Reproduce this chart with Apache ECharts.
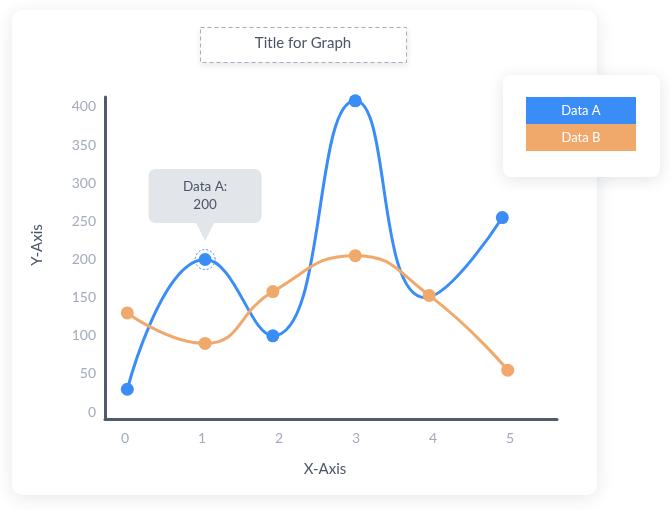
<!DOCTYPE html>
<html>
<head>
<meta charset="utf-8">
<script src="https://cdn.jsdelivr.net/npm/echarts@6/dist/echarts.min.js"></script>
<style>
  html, body { margin: 0; padding: 0; background: #fff; }
  #chart { width: 671px; height: 510px; }
</style>
</head>
<body>
<div id="chart"></div>
<script>
// values
var seriesNames = ['Data A', 'Data B'];
var xTicks = [0, 1, 2, 3, 4, 5];
var yTicks = [0, 50, 100, 150, 200, 250, 300, 350, 400];
var xA = [0.03, 1.04, 1.92, 2.99, 3.9, 4.9];
var yA = [30, 200, 100, 408, 150, 255];
var xB = [0.03, 1.04, 1.92, 2.99, 3.95, 4.97];
var yB = [130, 90, 158, 205, 153, 55];
var hiddenA = [4];     // point of Data A drawn without a marker
var tipIndex = 1;      // point with the callout

var blue = '#3a8df6';
var orange = '#f0a96b';
var axisColor = '#4f5a6b';
var labelColor = '#a3abbb';
var font = 'Lato';

function pairs(xs, ys, hidden) {
    return xs.map(function (x, i) {
        var item = { value: [x, ys[i]] };
        if (hidden && hidden.indexOf(i) >= 0) item.symbol = 'none';
        return item;
    });
}

var dataA = pairs(xA, yA, hiddenA);
dataA[tipIndex].label = {
    show: true,
    position: 'top',
    distance: 30,
    formatter: seriesNames[0] + ':\n' + yA[tipIndex],
    backgroundColor: '#e2e6ea',
    borderRadius: 7,
    width: 113,
    padding: [9, 0],
    lineHeight: 18,
    align: 'center',
    color: '#4b5567',
    fontSize: 13.5,
    fontFamily: font
};

var legendBox = { width: 110, height: 27, lineHeight: 27, align: 'center', color: '#fff', fontSize: 13, fontFamily: font };

var myChart = echarts.init(document.getElementById('chart'));

var option = {
    backgroundColor: '#fff',
    animation: false,
    graphic: [
        {   // main card
            type: 'rect', z: -10,
            shape: { x: 12, y: 10, width: 585, height: 485, r: 10 },
            style: { fill: '#fff', shadowBlur: 18, shadowColor: 'rgba(20,30,60,0.10)', shadowOffsetY: 3 }
        },
        {   // legend card
            type: 'rect', z: -10,
            shape: { x: 503, y: 75, width: 157, height: 102, r: 8 },
            style: { fill: '#fff', shadowBlur: 16, shadowColor: 'rgba(20,30,60,0.12)', shadowOffsetY: 3 }
        },
        {   // title box
            type: 'rect', z: -9,
            shape: { x: 200.5, y: 27.5, width: 206, height: 35 },
            style: { fill: '#fff', stroke: '#a7adbd', lineWidth: 1, lineDash: [4, 3],
                     shadowBlur: 6, shadowColor: 'rgba(20,30,60,0.10)', shadowOffsetY: 2 }
        }
    ],
    title: {
        text: 'Title for Graph',
        left: 303,
        top: 36,
        textAlign: 'center',
        padding: 0,
        textStyle: { color: '#4b5567', fontSize: 15, fontWeight: 'normal', fontFamily: font }
    },
    legend: {
        orient: 'vertical',
        left: 521,
        top: 97,
        itemGap: 0,
        itemWidth: 0,
        itemHeight: 0,
        padding: 0,
        selectedMode: false,
        icon: 'none',
        data: seriesNames,
        formatter: function (name) {
            return '{' + (name === seriesNames[0] ? 'a' : 'b') + '|' + name + '}';
        },
        textStyle: {
            padding: 0,
            rich: {
                a: Object.assign({ backgroundColor: blue }, legendBox),
                b: Object.assign({ backgroundColor: orange }, legendBox)
            }
        }
    },
    grid: { left: 105, right: 114, top: 97, bottom: 91 },
    xAxis: {
        type: 'value',
        min: -0.26,
        max: 5.61,
        name: 'X-Axis',
        nameLocation: 'middle',
        nameGap: 43,
        nameTextStyle: { color: '#4b5567', fontSize: 15, fontFamily: font, padding: [0, 12, 0, 0] },
        axisLine: { show: true, onZero: false, lineStyle: { color: axisColor, width: 3 } },
        axisTick: { show: false },
        splitLine: { show: false },
        axisLabel: { customValues: xTicks, color: labelColor, fontSize: 14, fontFamily: font, margin: 12 }
    },
    yAxis: {
        type: 'value',
        min: -9,
        max: 413,
        name: 'Y-Axis',
        nameLocation: 'middle',
        nameGap: 60,
        nameTextStyle: { color: '#4b5567', fontSize: 15, fontFamily: font, padding: [0, 0, 0, 26] },
        axisLine: { show: true, onZero: false, lineStyle: { color: axisColor, width: 3 } },
        axisTick: { show: false },
        splitLine: { show: false },
        axisLabel: { customValues: yTicks, color: labelColor, fontSize: 14, fontFamily: font, margin: 9 }
    },
    series: [
        {
            name: seriesNames[0],
            type: 'line',
            smooth: 0.5,
            symbol: 'circle',
            symbolSize: 13,
            itemStyle: { color: blue },
            lineStyle: { color: blue, width: 3 },
            emphasis: { disabled: true },
            data: dataA,
            markPoint: {
                silent: true,
                label: { show: false },
                data: [
                    {   // callout pointer
                        coord: [xA[tipIndex], yA[tipIndex]],
                        symbol: 'triangle',
                        symbolRotate: 180,
                        symbolSize: [19, 19],
                        symbolOffset: [0, -28],
                        itemStyle: { color: '#e2e6ea' }
                    },
                    {   // dotted ring
                        coord: [xA[tipIndex], yA[tipIndex]],
                        symbol: 'circle',
                        symbolSize: 20,
                        itemStyle: { color: 'rgba(0,0,0,0)', borderColor: blue, borderWidth: 1, borderType: [2, 2] }
                    }
                ]
            }
        },
        {
            name: seriesNames[1],
            type: 'line',
            smooth: 0.5,
            symbol: 'circle',
            symbolSize: 13,
            itemStyle: { color: orange },
            lineStyle: { color: orange, width: 3 },
            emphasis: { disabled: true },
            data: pairs(xB, yB)
        }
    ]
};

myChart.setOption(option);
</script>
</body>
</html>
